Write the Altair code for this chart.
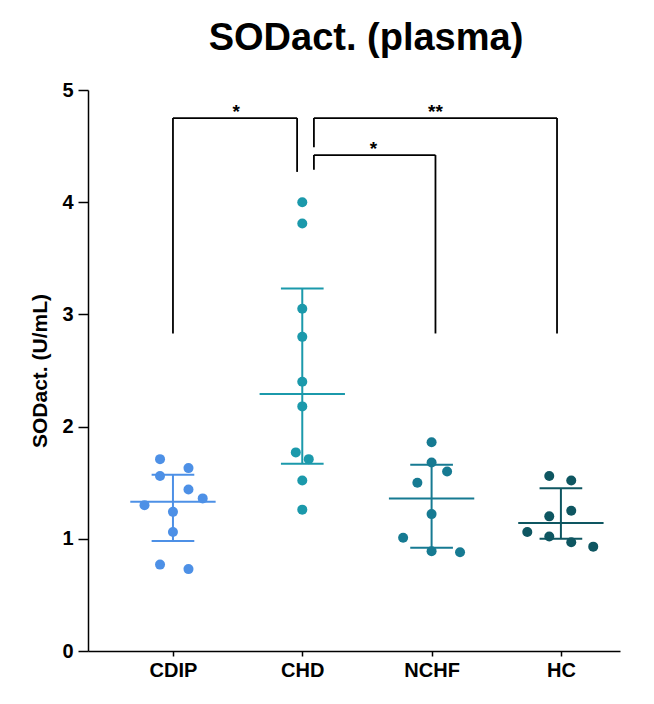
import altair as alt
import pandas as pd

# ---- data ----
groups = ["CDIP", "CHD", "NCHF", "HC"]
colors = ["#4d90e6", "#1b99ab", "#167a92", "#0e5661"]

cdip_vals = [1.71, 1.63, 1.56, 1.44, 1.36, 1.30, 1.24, 1.06, 0.77, 0.73]
cdip_jit = [-0.10, 0.12, -0.10, 0.12, 0.23, -0.22, 0.0, 0.0, -0.10, 0.12]
chd_vals = [4.00, 3.81, 3.05, 2.80, 2.40, 2.18, 1.77, 1.71, 1.52, 1.26]
chd_jit = [0.0, 0.0, 0.0, 0.0, 0.0, 0.0, -0.05, 0.05, 0.0, 0.0]
nchf_vals = [1.86, 1.68, 1.60, 1.50, 1.22, 1.01, 0.89, 0.88]
nchf_jit = [0.0, 0.0, 0.12, -0.11, 0.0, -0.22, 0.0, 0.22]
hc_vals = [1.56, 1.52, 1.25, 1.20, 1.06, 1.02, 0.97, 0.93]
hc_jit = [-0.09, 0.08, 0.08, -0.09, -0.26, -0.09, 0.08, 0.25]

medians = [1.33, 2.29, 1.36, 1.14]
q1 = [0.98, 1.67, 0.92, 1.00]
q3 = [1.57, 3.23, 1.66, 1.45]

# significance brackets (segments in data units)
br_x = [0.0, 0.0, 0.96, 1.09, 1.09, 2.97, 1.09, 1.09, 2.03]
br_x2 = [0.0, 0.96, 0.96, 1.09, 2.97, 2.97, 1.09, 2.03, 2.03]
br_y = [2.83, 4.75, 4.75, 4.49, 4.75, 4.75, 4.29, 4.42, 4.42]
br_y2 = [4.75, 4.75, 4.27, 4.75, 4.75, 2.83, 4.42, 4.42, 2.83]
star_x = [0.49, 2.03, 1.55]
star_y = [4.80, 4.80, 4.47]
star_txt = ["*", "**", "*"]

# ---- tables ----
rows = []
for gi, (g, vals, jit) in enumerate(zip(groups, [cdip_vals, chd_vals, nchf_vals, hc_vals],
                                         [cdip_jit, chd_jit, nchf_jit, hc_jit])):
    for v, j in zip(vals, jit):
        rows.append({"group": g, "x": gi + j, "y": v})
pts = pd.DataFrame(rows)

seg = []
for gi, g in enumerate(groups):
    seg.append({"group": g, "x": gi - 0.33, "x2": gi + 0.33, "y": medians[gi], "y2": medians[gi]})
    seg.append({"group": g, "x": gi - 0.165, "x2": gi + 0.165, "y": q1[gi], "y2": q1[gi]})
    seg.append({"group": g, "x": gi - 0.165, "x2": gi + 0.165, "y": q3[gi], "y2": q3[gi]})
    seg.append({"group": g, "x": gi, "x2": gi, "y": q1[gi], "y2": q3[gi]})
segs = pd.DataFrame(seg)

brk = pd.DataFrame({"x": br_x, "x2": br_x2, "y": br_y, "y2": br_y2})
stars = pd.DataFrame({"x": star_x, "y": star_y, "t": star_txt})

FONT = "Liberation Sans"
label_expr = "['CDIP','CHD','NCHF','HC'][datum.value]"

xscale = alt.Scale(domain=[-0.657, 3.457], nice=False, zero=False)
yscale = alt.Scale(domain=[0, 5], nice=False)
color = alt.Color("group:N", scale=alt.Scale(domain=groups, range=colors), legend=None)

xaxis = alt.Axis(values=[0, 1, 2, 3], labelExpr=label_expr, title=None, grid=False,
                 labelFont=FONT, labelFontSize=20, labelFontWeight="bold", labelColor="black",
                 domainColor="black", domainWidth=1.5, tickColor="black", tickWidth=1.5,
                 tickSize=5, labelPadding=4)
yaxis = alt.Axis(values=[0, 1, 2, 3, 4, 5], title="SODact. (U/mL)", grid=False,
                 labelFont=FONT, labelFontSize=20, labelFontWeight="bold", labelColor="black",
                 titleFont=FONT, titleFontSize=21, titleFontWeight="bold", titleColor="black",
                 titlePadding=11, domainColor="black", domainWidth=1.5, tickColor="black",
                 tickWidth=1.5, tickSize=10, labelPadding=5)

base_x = alt.X("x:Q", scale=xscale, axis=xaxis)
base_y = alt.Y("y:Q", scale=yscale, axis=yaxis)

points = alt.Chart(pts).mark_circle(size=100, opacity=1).encode(x=base_x, y=base_y, color=color)

lines = alt.Chart(segs).mark_rule(strokeWidth=2).encode(
    x=base_x, x2="x2:Q", y=base_y, y2="y2:Q", color=color)

brackets = alt.Chart(brk).mark_rule(strokeWidth=1.8, color="black").encode(
    x=base_x, x2="x2:Q", y=base_y, y2="y2:Q")

star_text = alt.Chart(stars).mark_text(font=FONT, fontSize=19, fontWeight="bold",
                                       color="black", baseline="middle").encode(
    x=base_x, y=base_y, text="t:N")

chart = alt.layer(brackets, lines, points, star_text).properties(
    width=532, height=561,
    title=alt.Title("SODact. (plasma)", font=FONT, fontSize=38, fontWeight="bold",
                    color="black", anchor="middle", dx=12, offset=22),
    autosize=alt.AutoSizeParams(type="none"),
    padding={"left": 88, "top": 90, "right": 34, "bottom": 53},
).configure_view(stroke="transparent")

chart.save("out.html", embed_options={"renderer": "svg", "actions": False})
